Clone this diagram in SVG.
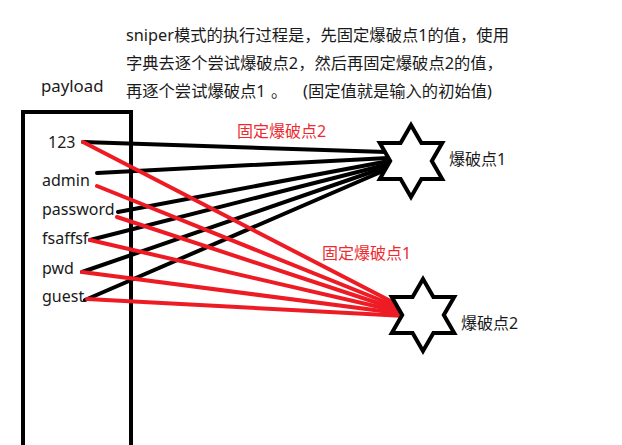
<svg xmlns="http://www.w3.org/2000/svg" width="622" height="445" viewBox="0 0 622 445">
<style>
text{font-family:"Noto Sans","Noto Sans CJK SC",sans-serif;font-size:16px;fill:#1a1a1a}
.desc{font-size:16.3px}
.red{fill:#ee2a30}
.bl{stroke:#000;stroke-width:4;stroke-linecap:round;fill:none}
.rd{stroke:#ed1c24;stroke-width:4;stroke-linecap:round;fill:none}
.star{fill:#fff;stroke:#000;stroke-width:4;stroke-linejoin:miter}
</style>
<rect width="622" height="445" fill="#fff"/>
<g id="description">
<text class="desc" x="126" y="41">sniper模式的执行过程是，先固定爆破点1的值，使用</text>
<text class="desc" x="126" y="69">字典去逐个尝试爆破点2，然后再固定爆破点2的值，</text>
<text class="desc" x="126" y="97">再逐个尝试爆破点1<tspan x="271">。</tspan><tspan x="303">(固定值就是输入的初始值)</tspan></text>
</g>
<g id="payload">
<text x="41" y="92" style="font-size:16.8px">payload</text>
<path d="M23 447 V112 H131 V447" fill="none" stroke="#000" stroke-width="4"/>
<text x="48" y="148">123</text>
<text x="42" y="186">admin</text>
<text x="42" y="215">password</text>
<text x="42" y="244">fsaffsf</text>
<text x="42" y="274">pwd</text>
<text x="42" y="302">guest</text>
</g>
<g id="connectors">
<line class="bl" x1="83" y1="142" x2="386" y2="152"/>
<line class="bl" x1="97" y1="173" x2="388" y2="158"/>
<line class="bl" x1="118" y1="212" x2="389" y2="161"/>
<line class="bl" x1="90" y1="240" x2="389" y2="164"/>
<line class="bl" x1="82" y1="272" x2="389" y2="166"/>
<line class="bl" x1="85" y1="300" x2="390" y2="168"/>
<line class="rd" x1="83" y1="142" x2="404" y2="308"/>
<line class="rd" x1="97" y1="186" x2="405" y2="310"/>
<line class="rd" x1="117" y1="217" x2="405" y2="312"/>
<line class="rd" x1="90" y1="240" x2="405" y2="313"/>
<line class="rd" x1="82" y1="272" x2="405" y2="314"/>
<line class="rd" x1="87" y1="299" x2="405" y2="316"/>
<text class="red" x="237" y="137">固定爆破点2</text>
<text class="red" x="322" y="259">固定爆破点1</text>
</g>
<g id="point1">
<polygon class="star" points="411,125 421.4,143 442.2,143 431.8,161 442.2,179 421.4,179 411,197 400.6,179 379.8,179 390.2,161 379.8,143 400.6,143"/>
<text x="449" y="165">爆破点1</text>
</g>
<g id="point2">
<polygon class="star" points="423,279 433.4,297 454.2,297 443.8,315 454.2,333 433.4,333 423,351 412.6,333 391.8,333 402.2,315 391.8,297 412.6,297"/>
<text x="461" y="329">爆破点2</text>
</g>
</svg>
